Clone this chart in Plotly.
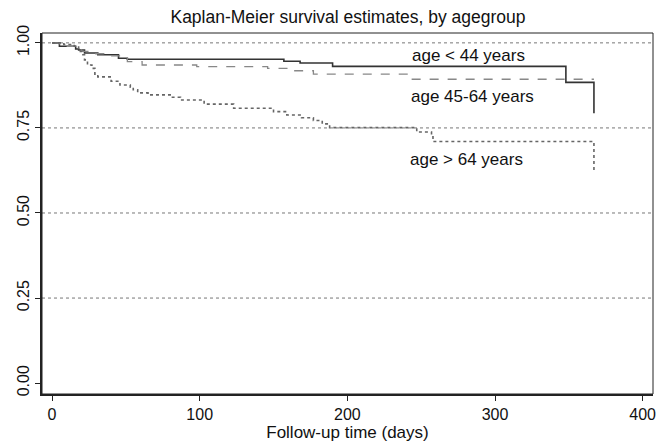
import plotly.graph_objects as go

# ---- data ----
t_young = [0, 5, 16, 18, 22, 31, 45, 51, 157, 168, 190, 348, 367]
s_young = [1.0, 0.99, 0.982, 0.979, 0.97, 0.965, 0.955, 0.952, 0.946, 0.941, 0.931, 0.884, 0.793]

t_mid = [0, 5, 16, 20, 25, 35, 51, 61, 98, 146, 163, 177, 241, 367]
s_mid = [1.0, 0.99, 0.982, 0.975, 0.968, 0.962, 0.945, 0.935, 0.93, 0.925, 0.918, 0.908, 0.893, 0.893]

t_old = [0, 8, 15, 18, 20, 22, 24, 27, 29, 31, 40, 46, 53, 55, 58, 65, 80, 87, 103, 123, 150,
         159, 169, 177, 183, 188, 247, 257, 258, 367]
s_old = [1.0, 0.995, 0.99, 0.975, 0.965, 0.95, 0.935, 0.925, 0.908, 0.9, 0.887, 0.876, 0.87, 0.862,
         0.853, 0.847, 0.84, 0.832, 0.82, 0.808, 0.798, 0.788, 0.78, 0.772, 0.762, 0.751, 0.738,
         0.724, 0.71, 0.622]

group_labels = ["age < 44 years", "age 45-64 years", "age > 64 years"]
label_x = [282, 285, 281]
label_y = [0.962, 0.841, 0.656]

x_ticks = [0, 100, 200, 300, 400]
y_ticks = [0.0, 0.25, 0.5, 0.75, 1.0]
y_ticklabels = ["0.00", "0.25", "0.50", "0.75", "1.00"]
grid_levels = [0.25, 0.5, 0.75, 1.0]

FONT = "Liberation Sans, Arial, sans-serif"

fig = go.Figure()
x0, x1 = -6.8, 407
y0, y1 = -0.032, 1.029

# gridlines
for g in grid_levels:
    fig.add_shape(type="line", xref="paper", x0=0, x1=1, yref="y", y0=g, y1=g,
                  line=dict(color="#777777", width=1, dash="dot"), layer="below")

fig.add_trace(go.Scatter(x=t_young, y=s_young, mode="lines", line_shape="hv",
                         line=dict(color="#333333", width=1.6), name=group_labels[0]))
fig.add_trace(go.Scatter(x=t_mid, y=s_mid, mode="lines", line_shape="hv",
                         line=dict(color="#888888", width=1.3, dash="dash"), name=group_labels[1]))
fig.add_trace(go.Scatter(x=t_old, y=s_old, mode="lines", line_shape="hv",
                         line=dict(color="#666666", width=1.6, dash="dot"), name=group_labels[2]))

for lab, lx, ly in zip(group_labels, label_x, label_y):
    fig.add_annotation(x=lx, y=ly, text=lab, showarrow=False,
                       font=dict(family=FONT, size=17, color="#111111"))

# frame
fig.add_shape(type="rect", xref="paper", yref="paper", x0=0, x1=1, y0=0, y1=1,
              line=dict(color="#222222", width=1))

W, H = 658, 445
fig.update_layout(
    width=W, height=H,
    margin=dict(l=42, r=5, t=33, b=51, autoexpand=False),
    paper_bgcolor="white", plot_bgcolor="white",
    showlegend=False,
    title=dict(text="Kaplan-Meier survival estimates, by agegroup",
               x=348 / W, xanchor="center", y=1 - 17 / H, yanchor="middle",
               font=dict(family=FONT, size=17.5, color="#111111"), automargin=False),
    font=dict(family=FONT, size=16, color="#111111"),
)
fig.update_xaxes(range=[x0, x1], tickvals=x_ticks, ticks="outside", ticklen=5,
                 tickcolor="#222222", showgrid=False, zeroline=False, automargin=False,
                 showline=True, linecolor="#222222", linewidth=2,
                 title=dict(text="Follow-up time (days)", standoff=0,
                            font=dict(family=FONT, size=17)),
                 tickfont=dict(family=FONT, size=16))
fig.update_yaxes(range=[y0, y1], tickvals=y_ticks, ticktext=y_ticklabels,
                 ticks="outside", ticklen=5, tickcolor="#222222", tickangle=-90,
                 showgrid=False, zeroline=False, automargin=False,
                 showline=True, linecolor="#222222", linewidth=2,
                 tickfont=dict(family=FONT, size=16))

fig.write_html("out.html", config={"displayModeBar": False},
               post_script="document.body.style.margin='0';document.body.style.overflow='hidden';")
